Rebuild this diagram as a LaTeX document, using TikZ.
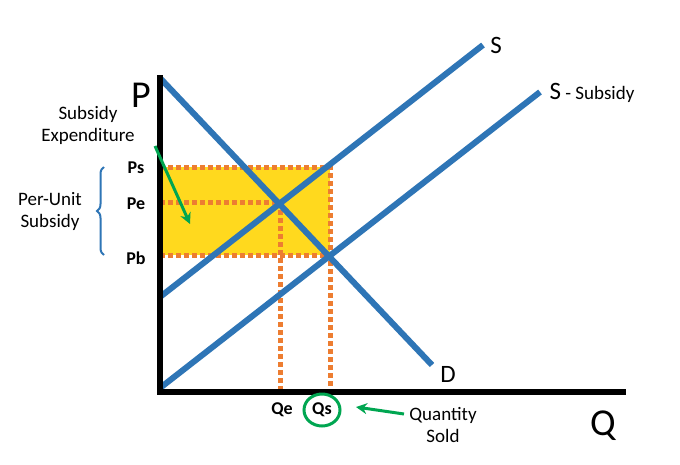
\documentclass[tikz,border=0pt]{standalone}
\usepackage{fontspec}
\setmainfont{Carlito}
\usetikzlibrary{decorations.pathreplacing,arrows.meta}
\definecolor{cblue}{RGB}{46,117,182}
\definecolor{corange}{RGB}{237,125,49}
\definecolor{cgreen}{RGB}{0,166,81}
\definecolor{cyellow}{RGB}{255,217,30}
\begin{document}
\begin{tikzpicture}[x=1pt,y=-1pt,
 curve/.style={draw=cblue,line width=6pt},
 dots/.style={draw=corange,line width=5pt,dash pattern=on 5pt off 3pt},
 garrow/.style={draw=cgreen,line width=3pt,-{Stealth[length=11pt,width=11pt]}},
 lab/.style={font=\fontsize{19}{22}\selectfont},
 blab/.style={font=\fontsize{18}{20}\selectfont\bfseries}]
\useasboundingbox (0,0) rectangle (680,464);
\fill[white] (0,0) rectangle (680,464);
\fill[cyellow] (160,167) rectangle (330,255);
\coordinate (o) at (160,392);
\coordinate (ytop) at (160,75);
\coordinate (xend) at (626,392);
\coordinate (ps) at (160,167); \coordinate (pe) at (160,202); \coordinate (pb) at (160,255);
\coordinate (e1) at (280,202); \coordinate (e2) at (330,255); \coordinate (c1) at (330,167);
\coordinate (qe) at (280,392); \coordinate (qs) at (330,392);
\draw[dots] (ps) -- (c1) -- (qs);
\draw[dots] (pe) -- (e1) -- (qe);
\draw[dots] (pb) -- (e2);
\coordinate (s0) at (160,297); \coordinate (s1) at (483,45);
\coordinate (t0) at (160,388); \coordinate (t1) at (540,92);
\coordinate (d0) at (160,78); \coordinate (d1) at (432,365);
\draw[curve] (s0) -- (s1);
\draw[curve] (t0) -- (t1);
\draw[curve] (d0) -- (d1);
\draw[line width=5.5pt] (ytop) -- (o) -- (xend);
\node[font=\fontsize{38}{40}\selectfont] (P) at (141,95) {P};
\node[font=\fontsize{38}{40}\selectfont] (Q) at (603,426) {Q};
\node[font=\fontsize{25}{27}\selectfont] (S) at (496,45) {S};
\node[anchor=west] (SS) at (546,93) {\fontsize{25}{27}\selectfont S\fontsize{19}{22}\selectfont{} - Subsidy};
\node[font=\fontsize{25}{27}\selectfont] (D) at (448,374) {D};
\node[blab] (Ps) at (136,168) {Ps};
\node[blab] (Pe) at (136,204) {Pe};
\node[blab] (Pb) at (136,258) {Pb};
\node[blab] (Qe) at (282,410) {Qe};
\node[blab] (Qs) at (322,410) {Qs};
\draw[cgreen,line width=3pt] (Qs) ellipse (18pt and 16pt);
\node[lab,align=center] (qsold) at (443,425) {Quantity\\Sold};
\draw[garrow] (404,414) -- (356,407);
\node[lab,align=center] (se) at (88,125) {Subsidy\\Expenditure};
\draw[garrow] (155,146) -- (190,224);
\node[lab,align=center] (pu) at (50,211) {Per-Unit\\Subsidy};
\draw[cblue,line width=2pt,decorate,decoration={brace,amplitude=7pt}] (104,255) -- (104,167);
\end{tikzpicture}
\end{document}
